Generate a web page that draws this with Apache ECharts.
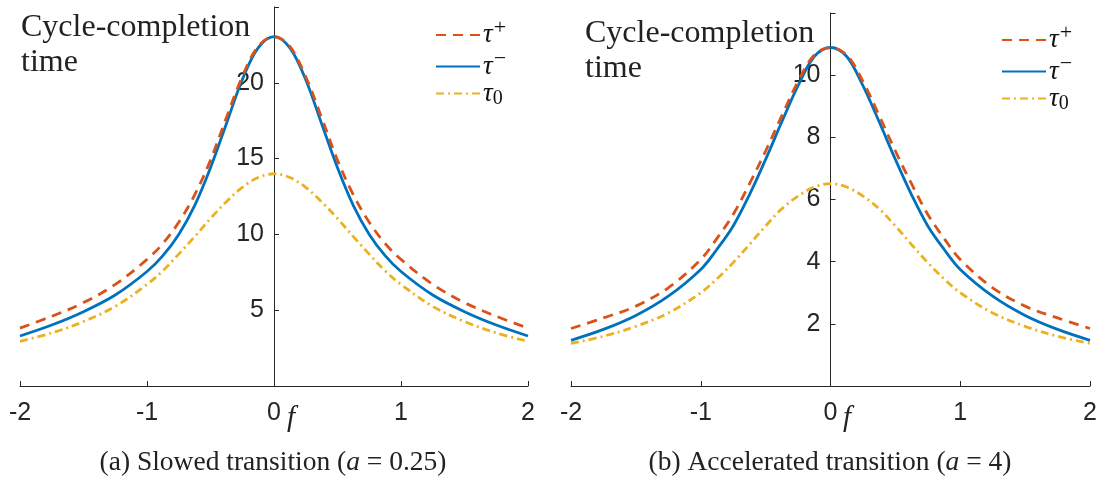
<!DOCTYPE html>
<html>
<head>
<meta charset="utf-8">
<script src="https://cdn.jsdelivr.net/npm/echarts@6/dist/echarts.min.js"></script>
<style>
html,body{margin:0;padding:0;background:#fff;}
#c{width:1109px;height:477px;}
</style>
</head>
<body>
<div id="c"></div>
<script>
// ---- data ----
const fValues = [-2,-1.75,-1.5,-1.25,-1,-0.875,-0.75,-0.625,-0.5,-0.375,-0.25,-0.125,0,0.125,0.25,0.375,0.5,0.625,0.75,0.875,1,1.25,1.5,1.75,2];
const xTicks = [-2,-1,0,1,2];
const seriesNames = ['τ+','τ−','τ0'];

// panel (a): slowed transition, a = 0.25
const aTauPlus  = [3.82,4.6,5.5,6.7,8.35,9.4,10.8,12.6,14.9,17.7,20.4,22.4,23.05,22.4,20.4,17.7,14.9,12.6,10.8,9.4,8.35,6.7,5.5,4.6,3.82];
const aTauMinus = [3.3,4.02,4.9,6.0,7.55,8.6,10.0,11.9,14.4,17.3,20.2,22.3,23.05,22.3,20.2,17.3,14.4,11.9,10.0,8.6,7.55,6.0,4.9,4.02,3.3];
const aTau0     = [2.95,3.5,4.25,5.25,6.7,7.6,8.7,9.85,11.05,12.15,13.1,13.75,14.0,13.75,13.1,12.15,11.05,9.85,8.7,7.6,6.7,5.25,4.25,3.5,2.95];
const aYTicks = [0,5,10,15,20,25];

// panel (b): accelerated transition, a = 4
const bTauPlus  = [1.85,2.19,2.57,3.16,4.07,4.75,5.52,6.5,7.56,8.7,9.8,10.65,10.89,10.65,9.8,8.7,7.56,6.5,5.52,4.75,4.07,3.16,2.57,2.19,1.85];
const bTauMinus = [1.47,1.82,2.27,2.89,3.75,4.4,5.15,6.15,7.29,8.5,9.66,10.6,10.89,10.6,9.66,8.5,7.29,6.15,5.15,4.4,3.75,2.89,2.27,1.82,1.47];
const bTau0     = [1.37,1.6,1.92,2.35,3.0,3.45,3.97,4.55,5.15,5.7,6.11,6.4,6.51,6.4,6.11,5.7,5.15,4.55,3.97,3.45,3.0,2.35,1.92,1.6,1.37];
const bYTicks = [0,2,4,6,8,10,12];

const captionA = '(a) Slowed transition ({i|a} = 0.25)';
const captionB = '(b) Accelerated transition ({i|a} = 4)';
const yTitle = 'Cycle-completion\ntime';

// ---- styling ----
const AX = '#262626';
const COL = {plus:'#D95319', minus:'#0072BD', zero:'#EDB120'};
const SERIF = "'Liberation Serif', 'DejaVu Serif', serif";
const SANS = "'Liberation Sans', Arial, sans-serif";
const GRIDS = [
  {left:20, top:7, width:508, height:379},
  {left:571, top:13, width:519, height:373}
];

function pairs(ys){ return fValues.map((f,i)=>[f, ys[i]]); }

function xAxisCfg(gi){
  return {
    type:'value', gridIndex:gi, min:xTicks[0], max:xTicks[xTicks.length-1], interval:1,
    axisLine:{show:true, onZero:false, lineStyle:{color:AX, width:1}},
    axisTick:{show:true, inside:true, length:5, lineStyle:{color:AX}},
    axisLabel:{show:true, margin:15, color:AX, fontFamily:SANS, fontSize:25,
      formatter:v=>String(v)},
    splitLine:{show:false}
  };
}
function yAxisCfg(gi, ticks){
  const mn = ticks[0], mx = ticks[ticks.length-1];
  const g = GRIDS[gi];
  // place the y axis at f = 0 (middle of the symmetric x range)
  const zeroOffset = -g.width * (0 - xTicks[0]) / (xTicks[xTicks.length-1] - xTicks[0]);
  return {
    type:'value', gridIndex:gi, min:mn, max:mx, interval:ticks[1]-ticks[0],
    position:'left', offset:zeroOffset,
    axisLine:{show:true, onZero:false, lineStyle:{color:AX, width:1}},
    axisTick:{show:true, inside:true, length:5, lineStyle:{color:AX}},
    axisLabel:{show:true, margin:10, color:AX, fontFamily:SANS, fontSize:25,
      formatter:v=> (v===mn||v===mx)?'':String(v)},
    splitLine:{show:false}
  };
}
function lineSeries(name, data, gi, color, type, z){
  return {
    name:name, type:'line', xAxisIndex:gi, yAxisIndex:gi, data:pairs(data),
    smooth:0.35, showSymbol:false, symbol:'none', z:z,
    lineStyle:{color:color, width:2.8, type:type, cap:'butt'},
    itemStyle:{color:color}, emphasis:{disabled:true}, animation:false
  };
}
const legendRich = {
  t:{fontFamily:SERIF, fontStyle:'italic', fontSize:27, color:'#111'},
  s:{fontFamily:SERIF, fontSize:22, color:'#111', verticalAlign:'top', padding:[0,0,14,1]},
  b:{fontFamily:SERIF, fontSize:20, color:'#111', verticalAlign:'bottom', padding:[11,0,0,0]}
};
const legendFmt = {'τ+':'{t|τ}{s|+}', 'τ−':'{t|τ}{s|−}', 'τ0':'{t|τ}{b|0}'};
function legendCfg(left, top){
  return {
    orient:'vertical', left:left, top:top, data:seriesNames,
    itemWidth:44, itemHeight:14, itemGap:0, padding:0,
    selectedMode:false,
    itemStyle:{opacity:0, borderWidth:0},
    formatter:n=>legendFmt[n],
    textStyle:{rich:legendRich, padding:[0,0,0,-2]}
  };
}

const chart = echarts.init(document.getElementById('c'), null, {renderer:'canvas'});
chart.setOption({
  animation:false,
  backgroundColor:'#fff',
  grid:GRIDS.map(g=>Object.assign({containLabel:false, outerBoundsMode:'none'}, g)),
  xAxis:[xAxisCfg(0), xAxisCfg(1)],
  yAxis:[yAxisCfg(0, aYTicks), yAxisCfg(1, bYTicks)],
  legend:[legendCfg(435, 17), legendCfg(1001, 22)],
  title:[
    {text:yTitle, left:21, top:10, padding:0, textStyle:{fontFamily:SERIF, fontWeight:'normal', fontSize:32, lineHeight:35, color:'#222'}},
    {text:yTitle, left:585, top:16, padding:0, textStyle:{fontFamily:SERIF, fontWeight:'normal', fontSize:32, lineHeight:35, color:'#222'}},
    {text:captionA, left:273, textAlign:'center', top:449, padding:0, textStyle:{fontFamily:SERIF, fontWeight:'normal', fontSize:27.5, color:'#222',
      rich:{i:{fontFamily:SERIF, fontStyle:'italic', fontSize:27.5, color:'#222'}}}},
    {text:captionB, left:830, textAlign:'center', top:449, padding:0, textStyle:{fontFamily:SERIF, fontWeight:'normal', fontSize:27.5, color:'#222',
      rich:{i:{fontFamily:SERIF, fontStyle:'italic', fontSize:27.5, color:'#222'}}}},
    {text:'f', left:287, top:404, padding:0, textStyle:{fontFamily:SERIF, fontStyle:'italic', fontWeight:'normal', fontSize:29, color:'#222'}},
    {text:'f', left:843, top:404, padding:0, textStyle:{fontFamily:SERIF, fontStyle:'italic', fontWeight:'normal', fontSize:29, color:'#222'}}
  ],
  series:[
    lineSeries('τ+', aTauPlus, 0, COL.plus, [10,7], 4),
    lineSeries('τ−', aTauMinus, 0, COL.minus, 'solid', 3),
    lineSeries('τ0', aTau0, 0, COL.zero, [8,4,2,4], 2),
    lineSeries('τ+', bTauPlus, 1, COL.plus, [10,7], 4),
    lineSeries('τ−', bTauMinus, 1, COL.minus, 'solid', 3),
    lineSeries('τ0', bTau0, 1, COL.zero, [8,4,2,4], 2)
  ]
});
</script>
</body>
</html>
